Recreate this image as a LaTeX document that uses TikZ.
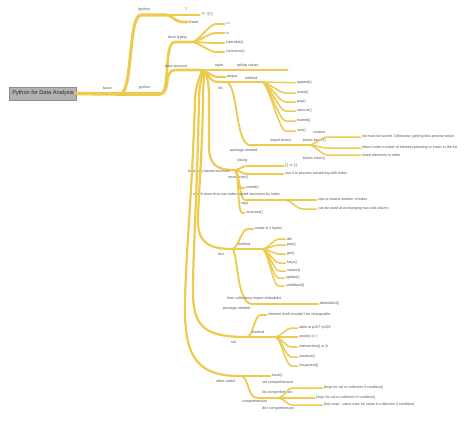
\documentclass[tikz,border=0pt]{standalone}
\usepackage{fontspec}
\setmainfont{Liberation Sans}
\usetikzlibrary{calc}
\definecolor{mm}{RGB}{236,203,78}
\definecolor{txt}{RGB}{85,85,85}
\definecolor{rootf}{RGB}{178,178,178}
\begin{document}
\begin{tikzpicture}[x=1pt,y=-1pt,
  br/.style={draw=mm,line cap=round,line join=round},
  w0/.style={br,line width=3.6pt},
  w1/.style={br,line width=3.1pt},
  w2/.style={br,line width=2.6pt},
  w3/.style={br,line width=2.2pt},
  w4/.style={br,line width=1.8pt},
  w5/.style={br,line width=1.5pt},
  lab/.style={font=\fontsize{3.65}{4}\selectfont,text=txt,inner sep=0pt,anchor=west},
  leaf/.style={lab,inner xsep=1.5pt},
  fanto/.style={to path={.. controls +(6,0) and ($(\tikztotarget)+(-#1-6,0)$) .. ($(\tikztotarget)+(-#1,0)$) -- (\tikztotarget)}},
  fanto/.default=9,
  rootbox/.style={fill=rootf,draw=rootf!80!black,line width=0.4pt,font=\fontsize{5.6}{6.4}\selectfont,text=black!85,minimum width=67pt,minimum height=13pt,inner sep=1pt}]
\fill[white] (0,0) rectangle (474,421);
\useasboundingbox (0,0) rectangle (474,421);

% root
\node[rootbox] (root) at (43,93.5) {Python for Data Analysis};
\coordinate (cb) at (120,94);
\draw[w0] (root.east) -- (cb);
\node[lab] (tbasic) at (103,88) {basic};

% Ipython
\coordinate (ipA) at (141,15);
\coordinate (ci) at (166,15);
\draw[w1] (cb) .. controls (133,94) and (128,15) .. (ipA) -- (ci);
\node[lab] (tip) at (138,10) {Ipython};
\node[leaf] (lq) at (199.5,15) {?? ?[?]};
\draw[w2] (ci) -- (lq.west);
\node[lab] (tq) at (185,9.5) {?};
\node[leaf] (lreset) at (187.5,22) {Reset};
\draw[w2] (ci) to[fanto=6] (lreset.west);

% python
\coordinate (cp) at (160,94);
\draw[w1] (cb) -- (cp);
\node[lab] (tpy) at (139,88) {python};

% duck typing
\coordinate (cd) at (192,42);
\draw[w2] (cp) .. controls (171,94) and (163,42) .. (175,42) -- (cd);
\node[lab] (tduck) at (168,38) {duck typing};
\node[leaf] (leq) at (224.5,24) {==};
\node[leaf] (lis) at (224.5,33) {is};
\node[leaf] (liter) at (224.5,43) {isiterable()};
\node[leaf] (linst) at (224.5,52) {isinstance()};
\foreach \n in {leq,lis,liter,linst} \draw[w4] (cd) to[fanto=9] (\n.west);

% data structure
\coordinate (cds) at (200,70);
\draw[w2] (cp) .. controls (171,94) and (163,70) .. (175,70) -- (cds);
\node[lab] (tds) at (165,66) {data structure};

% tuple
\coordinate (ct) at (234,70);
\draw[w3] (cds) -- (ct);
\node[lab] (ttuple) at (215,66) {tuple};
\node[leaf] (lcomma) at (287.5,70) {,};
\draw[w4] (ct) -- (lcomma.west);
\node[lab] (ttv) at (237,66) {taking values};

% deque
\node[leaf] (ldeque) at (225.5,77) {deque};
\draw[w3] (cds) to[fanto=8] (ldeque.west);

% list
\coordinate (cl) at (226,82);
\draw[w3] (cds) .. controls (208,70) and (208,82) .. (218,82) -- (cl);
\node[lab] (tlist) at (218,88) {list};
\coordinate (clm) at (262,82);
\draw[w4] (cl) -- (clm);
\node[lab] (tlm) at (245,78) {method};
\node[leaf] (lap) at (295.5,82.5) {append()};
\node[leaf] (lins) at (295.5,93) {insert()};
\node[leaf] (lpop) at (295.5,102) {pop()};
\node[leaf] (lrem) at (295.5,111) {remove()};
\node[leaf] (lext) at (295.5,121) {extend()};
\node[leaf] (lsort) at (295.5,131) {sort()};
\foreach \n in {lap,lins,lpop,lrem,lext,lsort} \draw[w5] (clm) to[fanto=10] (\n.west);
\node[lab] (tcaution) at (313,132) {caution};

% import bisect
\coordinate (cib0) at (250,145);
\coordinate (cib) at (300,145);
\draw[w4] (cl) .. controls (238,82) and (235,145) .. (cib0) -- (cib);
\node[lab] (tib) at (270,141) {import bisect};
\coordinate (cbb) at (309,145);
\draw[w4] (cib) -- (cbb);
\node[lab] (tbb) at (303,141) {bisect.bisect()};
\node[leaf] (lb1) at (360.5,137) {list must be sorted. Otherwise, getting less precise return};
\node[leaf] (lb2) at (360.5,148) {return index number of element planning to insert at the list};
\node[leaf] (lb3) at (360.5,155) {insert elements in order};
\foreach \n in {lb1,lb2,lb3} \draw[w5] (cbb) to[fanto=33] (\n.west);
\node[lab] (tbi) at (303,159) {bisect.insort()};
\node[lab] (tpn1) at (230,151) {package needed};

% for binary based structure
\coordinate (cfb) at (234,170);
\draw[w3] (cds) .. controls (207,70) and (209,80) .. (209,100) -- (209,146) .. controls (209,164) and (216,170) .. (cfb);
\node[lab] (tfb) at (188,172) {for binary based structure};
\node[lab] (tslice) at (237,161) {slicing};
\node[leaf] (lslice) at (283.5,166) {[:] or [:]};
\node[leaf] (luse) at (283.5,174) {use it to process something with index};
\draw[w4] (cfb) to[fanto=36] (lslice.west);
\draw[w4] (cfb) to[fanto=36] (luse.west);
\node[lab] (tenum) at (228,178) {enumerate()};
\node[leaf] (lsorted) at (244.5,188) {sorted()};
\draw[w4] (cfb) to[fanto=2] (lsorted.west);
\coordinate (czip) at (285,200);
\draw[w4] (cfb) to[fanto=40] (czip);
\node[lab] (tmatch) at (193,195) {match more than two index-based structures by index};
\node[lab] (tzip) at (241,204) {zip()};
\node[leaf] (lzips) at (316.5,200) {zips at lowest number of index};
\node[leaf] (lcan) at (316.5,209) {can be used at exchanging row and column};
\draw[w5] (czip) -- (lzips.west);
\draw[w5] (czip) to[fanto=14] (lcan.west);
\node[leaf] (lrev) at (244.5,213) {reversed()};
\draw[w4] (cfb) to[fanto=2] (lrev.west);

% dict
\coordinate (cdict) at (232,249);
\draw[w3] (cds) .. controls (206,70) and (203,78) .. (203,100) .. controls (202,160) and (198,200) .. (198,222) .. controls (198,243) and (210,249) .. (cdict);
\node[lab] (tdict) at (218,254) {dict};
\node[leaf] (lmade) at (253.5,229) {made of 2 tuples};
\draw[w4] (cdict) to[fanto=6] (lmade.west);
\coordinate (cdm) at (262,249);
\draw[w4] (cdict) -- (cdm);
\node[lab] (tdm) at (238,244) {method};
\node[leaf] (ldel) at (285.5,239) {del};
\node[leaf] (ldpop) at (285.5,245) {pop()};
\node[leaf] (lget) at (285.5,254) {get()};
\node[leaf] (lkeys) at (285.5,263) {keys()};
\node[leaf] (lvals) at (285.5,271) {values()};
\node[leaf] (lupd) at (284.5,278) {update()};
\node[leaf] (lsetd) at (284.5,286) {setdefault()};
\foreach \n in {ldel,ldpop,lget,lkeys,lvals,lupd,lsetd} \draw[w5] (cdm) to[fanto=6] (\n.west);
\coordinate (cdd0) at (252,304);
\node[leaf] (ldd) at (318.5,304) {defaultdict()};
\draw[w4] (cdict) .. controls (238,249) and (236,304) .. (cdd0) -- (ldd.west);
\node[lab] (tfc) at (227,299) {from collections import defaultdict};
\node[lab] (tpn2) at (223,309) {package needed};

% set
\coordinate (cset) at (247,337);
\draw[w3] (cds) .. controls (206,70) and (199,78) .. (199,100) .. controls (197,200) and (193,250) .. (193,292) .. controls (193,328) and (206,337) .. (cset);
\node[lab] (tset) at (231,342) {set};
\node[leaf] (lelem) at (266.5,315) {element itself shouldn't be changeable};
\draw[w4] (cset) to[fanto=6] (lelem.west);
\coordinate (csm) at (275,337);
\draw[w4] (cset) -- (csm);
\node[lab] (tsm) at (252,332) {method};
\node[leaf] (ltab) at (297.5,328) {table at p107\textasciitilde p108};
\node[leaf] (luni) at (297.5,337) {union() or |};
\node[leaf] (linter) at (297.5,347) {intersection() or \&};
\node[leaf] (lsub) at (297.5,357) {issubset()};
\node[leaf] (lsup) at (297.5,366) {issuperset()};
\foreach \n in {ltab,luni,linter,lsub,lsup} \draw[w5] (csm) to[fanto=6] (\n.west);

% other useful
\coordinate (coth) at (240,376);
\draw[w3] (cds) .. controls (205,70) and (196,78) .. (195,100) .. controls (192,200) and (185,260) .. (185,310) .. controls (185,360) and (200,376) .. (coth);
\node[lab] (toth) at (216,381) {other useful};
\node[leaf] (lhash) at (270.5,376) {hash()};
\draw[w4] (coth) -- (lhash.west);
\coordinate (ccomp) at (278,398);
\draw[w4] (coth) .. controls (250,376) and (246,398) .. (258,398) -- (ccomp);
\node[lab] (tcomp) at (242,402) {comprehension};
\node[lab] (tsc) at (262,383) {set comprehension};
\node[lab] (tlc) at (262,393) {list comprehension};
\node[lab] (tdc) at (262,409) {dict comprehension};
\node[leaf] (lc1) at (322.5,388) {[expr for val in collection if condition]};
\node[leaf] (lc2) at (314.5,398) {\{expr for val in collection if condition\}};
\node[leaf] (lc3) at (322.5,405) {\{key-expr : value-expr for value in collection if condition\}};
\draw[w5] (ccomp) to[fanto=30] (lc1.west);
\draw[w5] (ccomp) -- (lc2.west);
\draw[w5] (ccomp) to[fanto=30] (lc3.west);
\end{tikzpicture}
\end{document}
